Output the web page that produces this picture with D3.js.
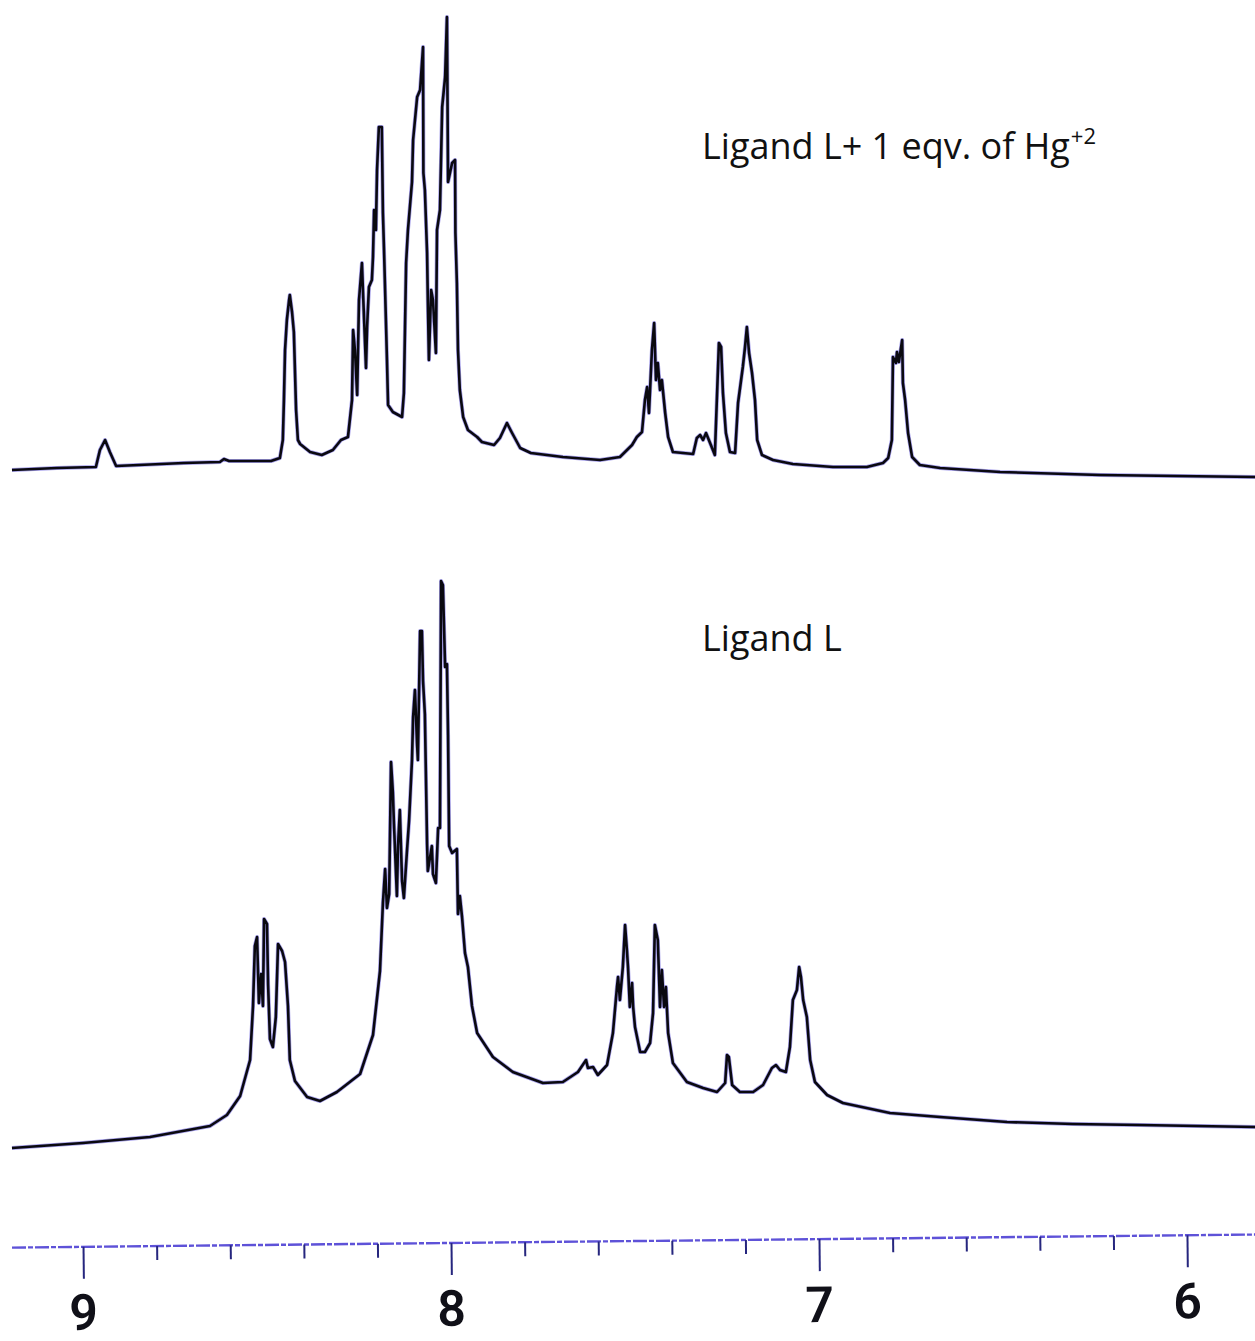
<!DOCTYPE html>
<html>
<head>
<meta charset="utf-8">
<script src="https://cdn.jsdelivr.net/npm/d3@7"></script>
<style>
  html, body { margin: 0; padding: 0; background: #ffffff; }
  svg { display: block; }
</style>
</head>
<body>
<svg id="chart" width="1255" height="1341"></svg>
<script>
// 1H NMR spectra, chemical shift in ppm, intensity in arbitrary units

// Ligand L + 1 eqv. of Hg(+2)
const complexPpm = [
  9.193, 9.071, 8.965, 8.954, 8.940, 8.927, 8.910, 8.726, 8.628, 8.617, 8.603, 8.489, 8.465, 8.457,
  8.454, 8.451, 8.446, 8.440, 8.438, 8.432, 8.427, 8.421, 8.416, 8.410, 8.383, 8.351, 8.321, 8.299,
  8.280, 8.269, 8.266, 8.261, 8.255, 8.250, 8.242, 8.239, 8.231, 8.228, 8.223, 8.215, 8.212, 8.209,
  8.204, 8.201, 8.196, 8.188, 8.185, 8.182, 8.174, 8.171, 8.158, 8.133, 8.128, 8.122, 8.117, 8.106,
  8.103, 8.092, 8.084, 8.076, 8.075, 8.071, 8.065, 8.063, 8.060, 8.054, 8.049, 8.041, 8.038, 8.030,
  8.024, 8.016, 8.011, 8.008, 7.997, 7.989, 7.988, 7.984, 7.981, 7.976, 7.967, 7.954, 7.929, 7.916,
  7.883, 7.867, 7.848, 7.834, 7.812, 7.783, 7.696, 7.595, 7.541, 7.508, 7.495, 7.481, 7.473, 7.467,
  7.462, 7.454, 7.448, 7.443, 7.438, 7.432, 7.427, 7.418, 7.410, 7.397, 7.342, 7.332, 7.323, 7.315,
  7.307, 7.296, 7.283, 7.272, 7.266, 7.261, 7.253, 7.242, 7.228, 7.220, 7.207, 7.201, 7.196, 7.190,
  7.182, 7.174, 7.168, 7.155, 7.125, 7.071, 6.962, 6.870, 6.826, 6.812, 6.802, 6.799, 6.791, 6.788,
  6.783, 6.774, 6.772, 6.766, 6.758, 6.747, 6.726, 6.671, 6.508, 6.236, 5.815
];
const complexIntensity = [
  10, 12, 13, 30, 40, 28, 14, 17, 18, 21, 19, 19, 22, 40,
  80, 130, 160, 180, 185, 168, 148, 70, 40, 36, 28, 25, 30, 40,
  43, 80, 150, 130, 85, 180, 217, 187, 112, 153, 193, 200, 223, 270,
  250, 310, 353, 353, 267, 230, 120, 75, 68, 63, 87, 217, 250, 298,
  340, 383, 390, 433, 307, 290, 227, 180, 120, 190, 180, 127, 250, 270,
  373, 403, 463, 298, 317, 320, 247, 197, 130, 90, 63, 50, 43, 38,
  35, 42, 57, 47, 32, 27, 23, 20, 23, 35, 43, 48, 80, 93,
  67, 130, 157, 100, 117, 90, 100, 67, 43, 28, 26, 42, 45, 40,
  47, 37, 25, 137, 133, 87, 47, 28, 27, 77, 113, 133, 153, 127,
  107, 80, 40, 25, 20, 16, 13, 13, 17, 22, 40, 123, 117, 128,
  118, 140, 97, 80, 47, 23, 15, 12, 8, 5, 3
];

// Ligand L
const ligandPpm = [
  9.193, 9.000, 8.818, 8.655, 8.609, 8.573, 8.546, 8.538, 8.533, 8.527, 8.522, 8.516, 8.511, 8.508,
  8.500, 8.497, 8.492, 8.484, 8.476, 8.470, 8.459, 8.451, 8.443, 8.438, 8.424, 8.391, 8.356, 8.310,
  8.247, 8.212, 8.193, 8.185, 8.179, 8.174, 8.168, 8.163, 8.158, 8.155, 8.147, 8.144, 8.139, 8.133,
  8.128, 8.120, 8.114, 8.106, 8.103, 8.098, 8.092, 8.090, 8.084, 8.079, 8.076, 8.071, 8.065, 8.063,
  8.052, 8.049, 8.041, 8.035, 8.030, 8.027, 8.022, 8.016, 8.011, 8.008, 8.005, 7.997, 7.984, 7.981,
  7.976, 7.970, 7.962, 7.954, 7.943, 7.929, 7.886, 7.832, 7.750, 7.696, 7.655, 7.633, 7.628, 7.614,
  7.601, 7.576, 7.560, 7.549, 7.546, 7.541, 7.533, 7.527, 7.522, 7.519, 7.514, 7.508, 7.505, 7.500,
  7.486, 7.473, 7.459, 7.451, 7.446, 7.438, 7.432, 7.427, 7.421, 7.416, 7.410, 7.397, 7.359, 7.315,
  7.277, 7.255, 7.250, 7.245, 7.236, 7.215, 7.179, 7.152, 7.128, 7.117, 7.106, 7.090, 7.079, 7.071,
  7.060, 7.054, 7.049, 7.043, 7.033, 7.024, 7.011, 6.978, 6.935, 6.807, 6.671, 6.489, 6.310, 6.128,
  5.815
];
const ligandIntensity = [
  12, 17, 23, 34, 45, 64, 100, 154, 214, 223, 157, 186, 154, 241,
  236, 175, 121, 113, 143, 216, 209, 198, 154, 100, 79, 63, 59, 68,
  86, 125, 189, 257, 291, 252, 266, 398, 368, 336, 264, 314, 350, 279,
  262, 307, 339, 400, 443, 470, 414, 400, 529, 529, 479, 446, 316, 289,
  314, 286, 277, 332, 332, 579, 575, 493, 496, 425, 314, 307, 311, 246,
  264, 243, 207, 193, 154, 127, 103, 88, 77, 78, 88, 100, 92, 93,
  85, 95, 127, 173, 183, 160, 193, 235, 210, 193, 153, 177, 153, 133,
  108, 108, 117, 147, 235, 220, 153, 190, 153, 173, 127, 97, 78, 72,
  68, 77, 105, 103, 75, 68, 68, 75, 92, 95, 90, 88, 113, 160,
  170, 193, 183, 160, 143, 100, 78, 65, 57, 47, 43, 38, 36, 35,
  33
];

// Axis ticks (ppm)
const majorTicks = [9, 8, 7, 6];
const minorTicks = [8.8, 8.6, 8.4, 8.2, 7.8, 7.6, 7.4, 7.2, 6.8, 6.6, 6.4, 6.2];
const tickLabels = ["9", "8", "7", "6"];

const spectrumLabels = ["Ligand L+ 1 eqv. of Hg", "Ligand L"];
const chargeLabel = "+2";

const svg = d3.select("#chart");

// shift axis runs right to left, as usual for NMR
const x = d3.scaleLinear().domain([9, 6]).range([83, 1187]);
const yComplex = d3.scaleLinear().domain([0, 480]).range([480, 0]);
const yLigand = d3.scaleLinear().domain([0, 580]).range([1160, 580]);

function drawSpectrum(ppm, intensity, y) {
  const pts = ppm.map((p, i) => [p, intensity[i]]);
  const line = d3.line().x(d => x(d[0])).y(d => y(d[1])).curve(d3.curveLinear);
  const g = svg.append("g");
  // faint blue halo from the recorder pen
  g.append("path").datum(pts).attr("d", line)
    .attr("fill", "none").attr("stroke", "#4b3fd6").attr("stroke-opacity", 0.5)
    .attr("stroke-width", 4).attr("stroke-linejoin", "round");
  g.append("path").datum(pts).attr("d", line)
    .attr("fill", "none").attr("stroke", "#0a0910")
    .attr("stroke-width", 2.6).attr("stroke-linejoin", "round");
}

drawSpectrum(complexPpm, complexIntensity, yComplex);
drawSpectrum(ligandPpm, ligandIntensity, yLigand);

// spectrum captions
const capFont = "'Open Sans', 'Noto Sans', sans-serif";
const cap1 = svg.append("text")
  .attr("x", 702).attr("y", 159)
  .attr("font-family", capFont).attr("font-size", 36)
  .attr("fill", "#111");
cap1.append("tspan").text(spectrumLabels[0]);
cap1.append("tspan").attr("font-size", 22).attr("dy", -15).attr("dx", 1).text(chargeLabel);

svg.append("text")
  .attr("x", 702).attr("y", 651)
  .attr("font-family", capFont).attr("font-size", 36)
  .attr("fill", "#111")
  .text(spectrumLabels[1]);

// ppm axis, slightly tilted like the chart paper
const axisG = svg.append("g")
  .attr("transform", "translate(0,1241) rotate(-0.6 640 0)");

axisG.append("line")
  .attr("x1", x(9.193)).attr("x2", x(5.815))
  .attr("y1", 0).attr("y2", 0)
  .attr("stroke", "#5e52d8").attr("stroke-width", 2.4)
  .attr("stroke-dasharray", "14 2 5 2");

const minorAxis = d3.axisBottom(x).tickValues(minorTicks).tickSize(14).tickSizeOuter(0).tickFormat("");
const majorAxis = d3.axisBottom(x).tickValues(majorTicks).tickSize(32).tickSizeOuter(0).tickFormat("");

axisG.append("g").call(minorAxis)
  .call(g => g.select(".domain").remove())
  .call(g => g.selectAll(".tick line").attr("stroke", "#26267e").attr("stroke-width", 2));
axisG.append("g").call(majorAxis)
  .call(g => g.select(".domain").remove())
  .call(g => g.selectAll(".tick line").attr("stroke", "#26267e").attr("stroke-width", 2));

axisG.selectAll("text.ppm")
  .data(majorTicks)
  .join("text")
  .attr("class", "ppm")
  .attr("x", d => x(d))
  .attr("y", 83)
  .attr("text-anchor", "middle")
  .attr("font-family", "Roboto, 'DejaVu Sans', sans-serif")
  .attr("font-weight", 600)
  .attr("font-size", 50)
  .attr("fill", "#101018")
  .text((d, i) => tickLabels[i]);
</script>
</body>
</html>
